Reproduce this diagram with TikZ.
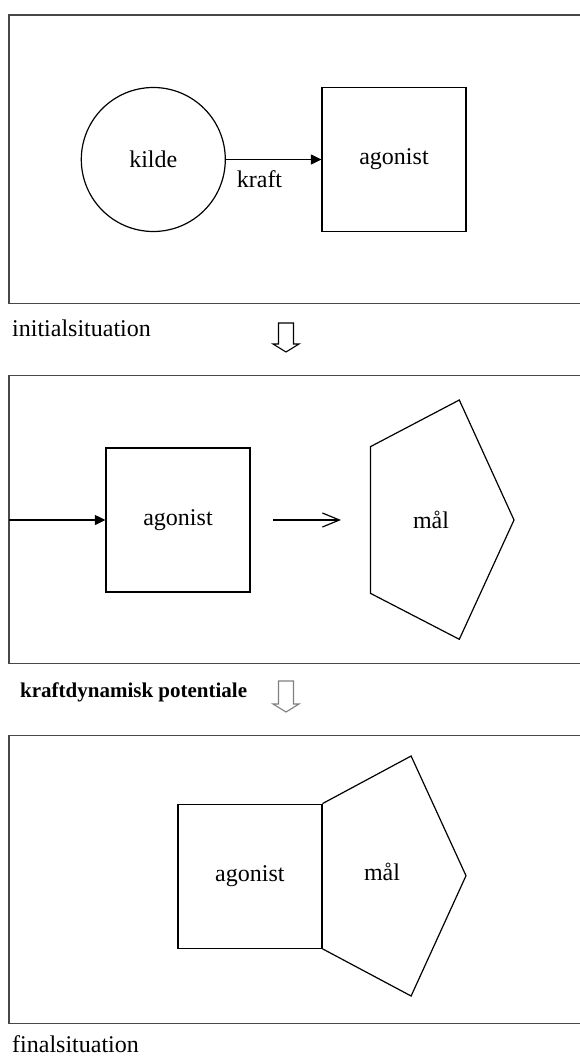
\documentclass[tikz,border=0pt]{standalone}
\usepackage{fontspec}
\setmainfont{Liberation Serif}
\usetikzlibrary{arrows.meta}
\begin{document}
\begin{tikzpicture}[x=1pt,y=-1pt,
  panel/.style={draw=black!72,line width=1.6pt},
  outline/.style={draw=black,line width=1.2pt},
  lbl/.style={font=\fontsize{24}{28}\selectfont,inner sep=0pt},
  sqbox/.style={outline,rectangle,minimum width=144pt,minimum height=144pt,inner sep=0pt,lbl},
  force/.style={line width=1.2pt,-{Triangle[length=10.5pt,width=10pt]}},
  tendency/.style={line width=1.2pt,-{Straight Barb[length=17pt,width=14pt,line width=1.2pt]}},
  blockarrow/.style={line width=1.1pt,fill=white,line join=miter}
]
% page
\fill[white] (0,0) rectangle (580,1056);
\useasboundingbox (0,0) rectangle (580,1056);

% ---------- initial situation ----------
\draw[panel] (580,15.3) -| (9,303.3) -- (580,303.3);
\node[outline,circle,minimum size=144pt,inner sep=0pt,lbl] (kilde) at (153.3,159.5) {kilde};
\node[sqbox] (ag1) at (394,159.5) {agonist};
\draw[force] (kilde.east) -- (ag1.west);
\node[lbl,anchor=base] (kraft) at (259.5,188) {kraft};
\node[lbl,anchor=base west] (init) at (12,336) {initialsituation};
\draw[blockarrow,draw=black] (278.5,323) -- (293.5,323) -- (293.5,344) -- (299,344)
  -- (286,352) -- (273,344) -- (278.5,344) -- cycle;

% ---------- force-dynamic potential ----------
\draw[panel] (580,375.3) -| (9,663.3) -- (580,663.3);
\coordinate (in2) at (9,520);
\node[sqbox] (ag2) at (178,520) {agonist};
\draw[force] (in2) -- (ag2.west);
\coordinate (t2a) at (273,520);
\coordinate (t2b) at (341,520);
\draw[tendency] (t2a) -- (t2b);
\coordinate (p2a) at (370.4,446.7);
\coordinate (p2b) at (459.3,400);
\coordinate (p2c) at (514,520);
\coordinate (p2d) at (459.3,639.3);
\coordinate (p2e) at (370.4,593.3);
\draw[outline,line join=miter] (p2a) -- (p2b) -- (p2c) -- (p2d) -- (p2e) -- cycle;
\node[lbl] (maal2) at (431,520) {mål};
\node[anchor=base west,inner sep=0pt,font=\fontsize{21}{25}\selectfont\bfseries] (pot) at (20,697) {kraftdynamisk potentiale};
\draw[blockarrow,draw=black!50] (278.5,681) -- (293.5,681) -- (293.5,704) -- (299,704)
  -- (286,712) -- (273,704) -- (278.5,704) -- cycle;

% ---------- final situation ----------
\draw[panel] (580,735.3) -| (9,1023.3) -- (580,1023.3);
\node[sqbox] (ag3) at (249.9,876.2) {agonist};
\coordinate (p3b) at (411.1,756);
\coordinate (p3c) at (466,875.7);
\coordinate (p3d) at (411.1,996);
\draw[outline,line join=miter] (ag3.north east) -- (p3b) -- (p3c) -- (p3d) -- (ag3.south east);
\node[lbl,anchor=base] (maal3) at (382,880.7) {mål};
\node[lbl,anchor=base west] (final) at (12,1052) {finalsituation};
\end{tikzpicture}
\end{document}
